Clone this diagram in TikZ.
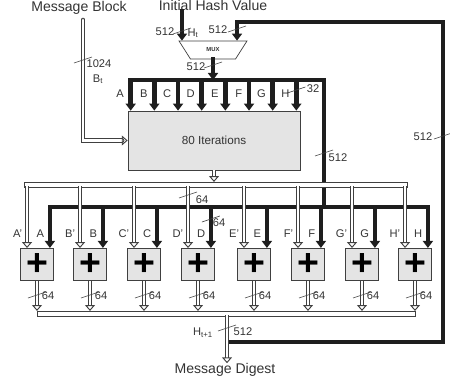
\documentclass[tikz,border=0pt]{standalone}
\usepackage{fontspec}
\setmainfont{Liberation Sans}
\usetikzlibrary{arrows.meta, positioning, shapes.geometric}
\definecolor{negroBus}{HTML}{1E1E1E}
\definecolor{grisLinea}{HTML}{404040}
\definecolor{grisTexto}{HTML}{333333}
\definecolor{grisCaja}{HTML}{E4E4E4}

\begin{document}
\begin{tikzpicture}[
    x=0.03cm, y=-0.03cm,
    every node/.style={inner sep=0pt, text=grisTexto, font=\fontsize{9.5}{10}\selectfont},
    titulo/.style={font=\fontsize{12}{13}\selectfont},
    suma/.style={rectangle, draw=grisLinea, fill=grisCaja, line width=0.6pt, minimum size=0.97cm, text=black, font=\fontsize{32}{32}\selectfont\bfseries},
    iteraciones/.style={rectangle, draw=grisLinea, fill=grisCaja, line width=0.6pt, minimum width=5.16cm, minimum height=1.77cm, font=\fontsize{10}{11}\selectfont},
    multiplexor/.style={trapezium, shape border rotate=180, trapezium stretches=true, trapezium angle=51, draw=grisLinea, fill=white, line width=0.6pt, minimum width=2.04cm, minimum height=0.54cm, font=\fontsize{5}{5}\selectfont\bfseries},
    bus/.style={draw=negroBus, line width=3.8pt, line cap=rect},
    flecha/.style={bus, -{Triangle[width=8.5pt, length=6pt]}},
    hueco/.style={draw=grisLinea, line width=0.8pt, double=white, double distance=2.4pt},
    flechaHueca/.style={hueco, -{Triangle[open, width=8.5pt, length=5pt]}},
    pics/marca/.style={code={\draw[grisLinea, line width=0.5pt] (-9,3) -- (9,-3);}}
]
    \useasboundingbox (0,0) rectangle (450,383);

    \node[titulo] (bloque) at (79,8) {Message Block};
    \node[titulo] (hini) at (213,5.5) {Initial Hash Value};
    \node[titulo] (digest) at (225,370) {Message Digest};

    \node[multiplexor] (mx) at (213,50) {MUX};
    \node[iteraciones] (iter) at (214,140.5) {80 Iterations};

    \node[suma] (s1) at (37,264.5) {+};
    \node[suma] (s2) at (90,264.5) {+};
    \node[suma] (s3) at (144,264.5) {+};
    \node[suma] (s4) at (198,264.5) {+};
    \node[suma] (s5) at (254,264.5) {+};
    \node[suma] (s6) at (308,264.5) {+};
    \node[suma] (s7) at (362,264.5) {+};
    \node[suma] (s8) at (415,264.5) {+};

    % puntos de los buses
    \coordinate (mxa) at ([xshift=-26.5pt]mx.north);
    \coordinate (mxb) at ([xshift=20.5pt]mx.north);
    \coordinate (bus1) at (324,80);
    \coordinate (bus2) at (0,207);
    \coordinate (ret) at (443,22);
    \coordinate (sal) at (229,342);
    \coordinate (salida) at (227,313.5);
    \coordinate (bloqueIn) at (83,20);
    \coordinate (hb) at (0,184.5);
    \coordinate (ob) at (0,313.5);

    % buses gruesos
    \foreach \l [count=\i] in {A,...,H} {
        \coordinate (t\i) at ([xshift={(\i-1)*20.2pt+2.6pt}]iter.north west);
        \draw[flecha] (t\i |- bus1) -- (t\i) node[pos=0.45, left=4pt] {\l};
    }
    \draw[bus] (t1 |- bus1) -- (bus1) -- (bus1 |- bus2);
    \draw[flecha] (mxa |- hini.south) -- (mxa);
    \draw[flecha] (mx.south) -- (mx.south |- bus1);
    \draw[flecha] (sal) -- (sal -| ret) -- (ret) -- (mxb |- ret) -- (mxb);

    \foreach \l [count=\i] in {A,...,H} {
        \coordinate (b\i) at ([xshift=11pt]s\i.north);
        \coordinate (h\i) at ([xshift=-8.5pt]s\i.north);
        \draw[flecha] (b\i |- bus2) -- (b\i) node[pos=0.66, left=3pt] {\l};
    }
    \draw[bus] (b1 |- bus2) -- (b8 |- bus2);

    % buses huecos
    \draw[hueco, line cap=round, -{Triangle[open, width=8.5pt, length=5pt]}] (bloqueIn) |- (iter.west);
    \coordinate (hbL) at (h1 |- hb);
    \coordinate (hbR) at (h8 |- hb);
    \draw[grisLinea, fill=white, line width=0.7pt] ([shift={(-2pt,2.2pt)}]hbL) rectangle ([shift={(2pt,-2.2pt)}]hbR);
    \draw[flechaHueca] (iter.south) -- ([yshift=2.2pt]iter.south |- hb);
    \foreach \l [count=\i] in {A,...,H} {
        \draw[flechaHueca] ([yshift=-1.6pt]h\i |- hb) -- (h\i) node[pos=0.77, left=3.8pt] {\l'};
        \draw[flechaHueca] (s\i.south) -- ([yshift=2.2pt]s\i.south |- ob);
        \pic at (s\i.south |- 0,295) {marca};
        \node[right=4pt] (o\i) at (s\i.south |- 0,296) {64};
    }
    \draw[grisLinea, fill=white, line width=0.7pt] ([yshift=2.2pt]s1.south |- ob) rectangle ([yshift=-2.2pt]s8.south |- ob);
    \draw[flechaHueca] ([yshift=-1.6pt]salida) -- (salida |- digest.north);

    % etiquetas
    \node (l1) at (165,32) {512};
    \pic at (mxa |- 0,31) {marca};
    \node (ht) at (193,33) {H\textsubscript{t}};
    \node (l2) at (218,30) {512};
    \pic at (mxb |- 0,29) {marca};
    \node (l3) at (196,67) {512};
    \pic at (213,65) {marca};
    \node (l4) at (99,64) {1024};
    \node (bt) at (98,79) {B\textsubscript{t}};
    \pic at (83,60) {marca};
    \node (l5) at (313,89) {32};
    \pic at (t8 |- 0,90) {marca};
    \node (l6) at (338,158) {512};
    \pic at (324,153) {marca};
    \node (l7) at (423,137) {512};
    \pic at (443,136) {marca};
    \node (l8) at (202,200) {64};
    \pic at (h4 |- 0,195) {marca};
    \node (l9) at (219,223) {64};
    \pic at (b4 |- 0,219) {marca};
    \node (ht1) at (203,333) {H\textsubscript{t+1}};
    \node (l10) at (243,332) {512};
    \pic at (227,328) {marca};
\end{tikzpicture}
\end{document}
